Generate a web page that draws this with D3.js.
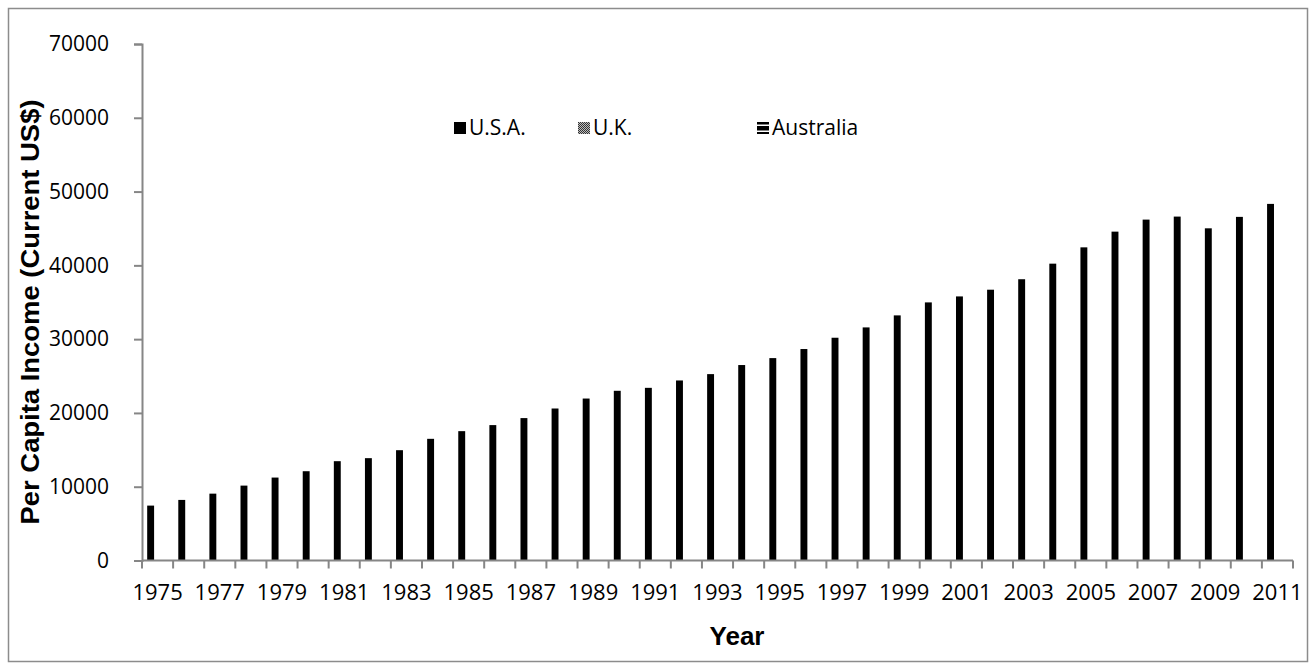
<!DOCTYPE html>
<html>
<head>
<meta charset="utf-8">
<script src="https://cdn.jsdelivr.net/npm/d3@7"></script>
<style>
  html, body { margin: 0; padding: 0; background: #fff; }
  svg { display: block; }
</style>
</head>
<body>
<svg id="chart" width="1315" height="670"></svg>
<script>
// ---------- data ----------
const years = [1975,1976,1977,1978,1979,1980,1981,1982,1983,1984,1985,1986,1987,1988,1989,1990,
  1991,1992,1993,1994,1995,1996,1997,1998,1999,2000,2001,2002,2003,2004,2005,2006,2007,2008,2009,2010,2011];
const seriesNames = ["U.S.A.", "U.K.", "Australia"];
const usa = [7440,8210,9060,10150,11240,12100,13460,13870,14950,16490,17530,18350,19300,20600,21950,23000,
  23400,24400,25260,26490,27430,28660,30190,31590,33220,34980,35790,36700,38120,40230,42440,44570,46200,46610,45020,46570,48330];
const uk = years.map(() => null);
const australia = years.map(() => null);
const yTicks = [0,10000,20000,30000,40000,50000,60000,70000];
const xLabelYears = years.filter((d, i) => i % 2 === 0);

(function draw() {
  const svg = d3.select("#chart");
  const mLeft = 142, mRight = 1293, mTop = 44, mBottom = 560.5;
  const axisColor = "#868686";

  // patterns for legend swatches
  const defs = svg.append("defs");
  const pUK = defs.append("pattern").attr("id", "pUK").attr("patternUnits", "userSpaceOnUse")
    .attr("width", 2).attr("height", 2);
  pUK.append("rect").attr("width", 2).attr("height", 2).attr("fill", "#bbb");
  pUK.append("rect").attr("width", 1).attr("height", 1).attr("fill", "#333");
  pUK.append("rect").attr("x", 1).attr("y", 1).attr("width", 1).attr("height", 1).attr("fill", "#333");
  const pAU = defs.append("pattern").attr("id", "pAU").attr("patternUnits", "userSpaceOnUse")
    .attr("width", 4).attr("height", 6);
  pAU.append("rect").attr("width", 4).attr("height", 6).attr("fill", "#000");
  pAU.append("rect").attr("y", 2.5).attr("width", 4).attr("height", 1.5).attr("fill", "#fff");
  const fills = { "U.S.A.": "#000", "U.K.": "url(#pUK)", "Australia": "url(#pAU)" };

  // outer border
  svg.append("rect").attr("x", 8.5).attr("y", 8.5).attr("width", 1299).attr("height", 653)
    .attr("fill", "none").attr("stroke", "#8c8c8c").attr("stroke-width", 1.5);

  // scales
  const x0 = d3.scaleBand().domain(years).range([mLeft, mRight]).paddingInner(0).paddingOuter(0);
  const bw = x0.bandwidth();
  const pad = bw / 6;
  const x1 = d3.scaleBand().domain(seriesNames).range([pad, bw - pad]).padding(0);
  const y = d3.scaleLinear().domain([0, 70000]).range([mBottom, mTop]);

  const seriesData = { "U.S.A.": usa, "U.K.": uk, "Australia": australia };

  // bars
  seriesNames.forEach(name => {
    const vals = seriesData[name];
    svg.append("g").selectAll("rect")
      .data(years.map((yr, i) => ({ yr, v: vals[i] })).filter(d => d.v != null))
      .join("rect")
      .attr("x", d => x0(d.yr) + x1(name))
      .attr("y", d => y(d.v))
      .attr("width", x1.bandwidth())
      .attr("height", d => y(0) - y(d.v))
      .attr("fill", fills[name]);
  });

  // y axis
  const yAxis = svg.append("g").attr("transform", `translate(${mLeft},0)`)
    .call(d3.axisLeft(y).tickValues(yTicks).tickSize(8).tickPadding(25).tickFormat(d3.format("d")));
  yAxis.select(".domain").attr("stroke", axisColor).attr("stroke-width", 2);
  yAxis.selectAll(".tick line").attr("stroke", axisColor).attr("stroke-width", 2);
  yAxis.selectAll(".tick text").attr("fill", "#000").style("font-family", "'Open Sans', sans-serif")
    .style("font-size", "21px");

  // x axis (labels)
  const xAxis = svg.append("g").attr("transform", `translate(0,${mBottom})`)
    .call(d3.axisBottom(x0).tickValues(xLabelYears).tickSize(0).tickPadding(24));
  xAxis.select(".domain").remove();
  xAxis.selectAll(".tick text").attr("fill", "#000").style("font-family", "'Open Sans', sans-serif")
    .style("font-size", "22px");
  // axis line + boundary ticks
  svg.append("line").attr("x1", mLeft).attr("x2", mRight).attr("y1", mBottom).attr("y2", mBottom)
    .attr("stroke", axisColor).attr("stroke-width", 2);
  const boundaries = years.map(d => x0(d)).concat([mRight]);
  svg.append("g").selectAll("line").data(boundaries).join("line")
    .attr("x1", d => d).attr("x2", d => d).attr("y1", mBottom).attr("y2", mBottom + 8)
    .attr("stroke", axisColor).attr("stroke-width", 2);

  // axis titles
  svg.append("text").attr("x", 737).attr("y", 645).attr("text-anchor", "middle")
    .style("font-family", "'Liberation Sans', Arial, sans-serif").style("font-weight", "bold")
    .style("font-size", "26px").text("Year");
  svg.append("text").attr("transform", "translate(39,312) rotate(-90)").attr("text-anchor", "middle")
    .attr("textLength", 425).attr("lengthAdjust", "spacingAndGlyphs")
    .style("font-family", "'Liberation Sans', Arial, sans-serif").style("font-weight", "bold")
    .style("font-size", "25px").text("Per Capita Income (Current US$)");

  // legend
  const legendItems = [
    { name: "U.S.A.", x: 454 },
    { name: "U.K.", x: 578 },
    { name: "Australia", x: 757 }
  ];
  const ly = 128;
  const lg = svg.append("g").selectAll("g").data(legendItems).join("g")
    .attr("transform", d => `translate(${d.x},${ly})`);
  lg.append("rect").attr("x", 0).attr("y", -6).attr("width", 12).attr("height", 12)
    .attr("fill", d => fills[d.name]);
  lg.append("text").attr("x", 15).attr("y", 7).style("font-family", "'Open Sans', sans-serif")
    .style("font-size", "21px").text(d => d.name);
})();
</script>
</body>
</html>
